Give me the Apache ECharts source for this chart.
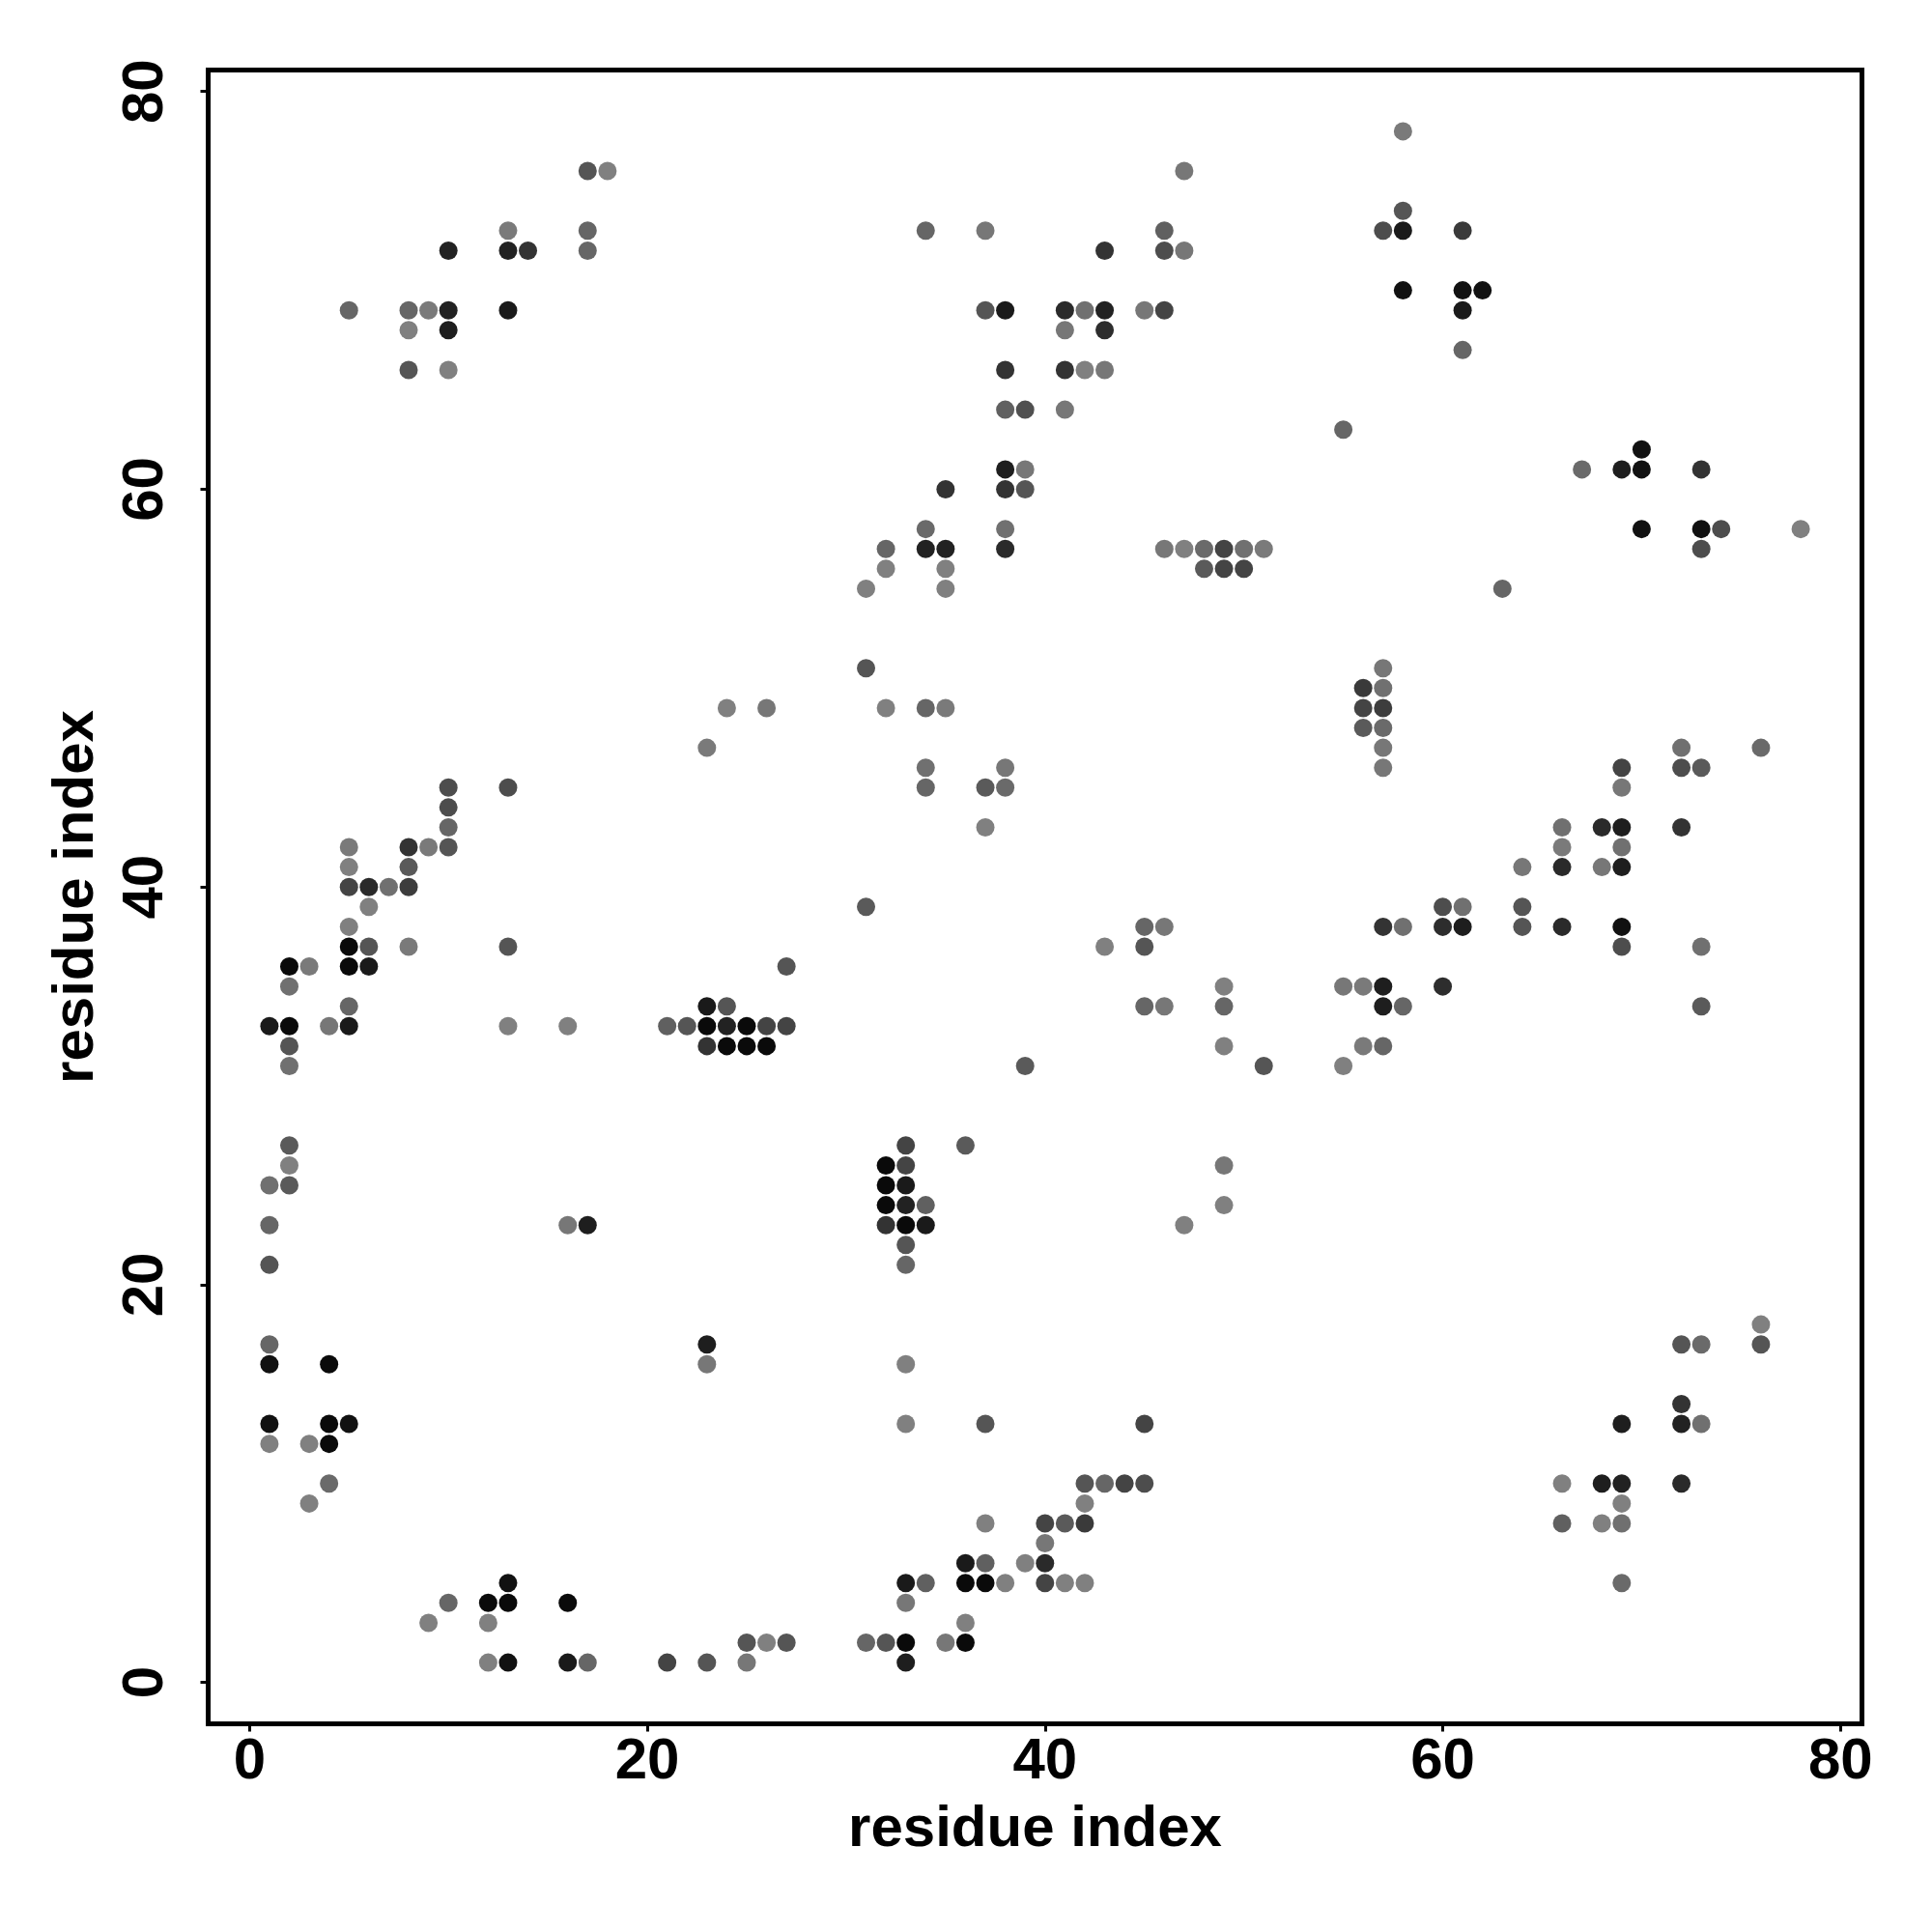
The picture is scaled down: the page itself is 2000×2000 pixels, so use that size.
<!DOCTYPE html>
<html>
<head>
<meta charset="utf-8">
<script src="https://cdn.jsdelivr.net/npm/echarts@6/dist/echarts.min.js"></script>
<style>html,body{margin:0;padding:0;background:#fff}#c{width:2000px;height:2000px}</style>
</head>
<body>
<div id="c"></div>
<script>
// [residue i, residue j, gray level (0 = black, 255 = white)]
const contactsTop = [
 [58,78,122],
 [17,76,85],[18,76,128],[47,76,119],
 [58,74,85],
 [13,73,122],[17,73,102],[34,73,102],[37,73,119],[46,73,96],[57,73,77],[58,73,26],[61,73,58],
 [10,72,34],[13,72,34],[14,72,51],[17,72,102],[43,72,51],[46,72,77],[47,72,119],
 [58,70,17],[61,70,17],[62,70,17],
 [5,69,102],[8,69,102],[9,69,122],[10,69,34],[13,69,26],[37,69,85],[38,69,26],[41,69,42],[42,69,112],[43,69,34],[45,69,119],[46,69,68],[61,69,26],
 [8,68,128],[10,68,30],[41,68,119],[43,68,45],
 [61,67,102],
 [8,66,85],[10,66,128],[38,66,51],[41,66,51],[42,66,128],[43,66,119],
 [38,64,96],[39,64,80],[41,64,119],
 [55,63,102],
 [70,62,17],
 [38,61,30],[39,61,119],[67,61,106],[69,61,30],[70,61,17],[73,61,51],
 [35,60,51],[38,60,51],[39,60,85],
 [34,58,106],[38,58,112],[70,58,17],[73,58,17],[74,58,77],[78,58,128],
 [32,57,102],[34,57,34],[35,57,34],[38,57,42],[46,57,119],[47,57,128],[48,57,106],[49,57,68],[50,57,112],[51,57,122],[73,57,77],
 [32,56,128],[35,56,128],[48,56,90],[49,56,68],[50,56,68],
 [31,55,128],[35,55,128],[63,55,102]
];
const contactsMid = [
 [31,51,85],[57,51,119],
 [56,50,58],[57,50,112],
 [24,49,128],[26,49,119],[32,49,128],[34,49,102],[35,49,122],[56,49,68],[57,49,61],
 [56,48,90],[57,48,106],
 [23,47,122],[57,47,119],[72,47,112],[76,47,106],
 [34,46,112],[38,46,119],[57,46,119],[69,46,68],[72,46,77],[73,46,90],
 [10,45,77],[13,45,77],[34,45,102],[37,45,90],[38,45,106],[69,45,119],
 [10,44,77],
 [10,43,102],[37,43,128],[66,43,112],[68,43,42],[69,43,30],[72,43,51],
 [5,42,122],[8,42,51],[9,42,122],[10,42,85],[66,42,122],[69,42,112],
 [5,41,128],[8,41,90],[64,41,119],[66,41,42],[68,41,119],[69,41,30],
 [5,40,68],[6,40,42],[7,40,112],[8,40,61],
 [6,39,128],[31,39,90],[60,39,77],[61,39,112],[64,39,85],
 [5,38,128],[45,38,102],[46,38,119],[57,38,51],[58,38,112],[60,38,45],[61,38,30],[64,38,85],[66,38,42],[69,38,17],
 [5,37,10],[6,37,85],[8,37,122],[13,37,85],[43,37,128],[45,37,85],[69,37,77],[73,37,112],
 [2,36,10],[3,36,122],[5,36,10],[6,36,26],[27,36,85],
 [2,35,112],[49,35,128],[55,35,119],[56,35,122],[57,35,30],[60,35,45],
 [5,34,102],[23,34,26],[24,34,85],[45,34,102],[46,34,119],[49,34,102],[57,34,30],[58,34,102],[73,34,90],
 [1,33,26],[2,33,10],[4,33,119],[5,33,26],[13,33,128],[16,33,128],[21,33,96],[22,33,85],[23,33,10],[24,33,34],[25,33,10],[26,33,68],[27,33,68],
 [2,32,85],[23,32,51],[24,32,10],[25,32,10],[26,32,10],[49,32,128],[56,32,122],[57,32,102],
 [2,31,112],[39,31,90],[51,31,85],[55,31,128]
];
const contactsLow = [
 [2,27,90],[33,27,68],[36,27,90],
 [2,26,128],[32,26,10],[33,26,68],[49,26,119],
 [1,25,112],[2,25,90],[32,25,10],[33,25,26],
 [32,24,10],[33,24,34],[34,24,96],[49,24,128],
 [1,23,102],[16,23,119],[17,23,30],[32,23,51],[33,23,10],[34,23,26],[47,23,128],
 [33,22,85],
 [1,21,85],[33,21,102],
 [76,18,128],
 [1,17,102],[23,17,30],[72,17,85],[73,17,106],[76,17,85],
 [1,16,17],[4,16,10],[23,16,119],[33,16,128],
 [72,14,51],
 [1,13,17],[4,13,10],[5,13,17],[33,13,128],[37,13,85],[45,13,68],[69,13,30],[72,13,34],[73,13,112],
 [1,12,128],[3,12,128],[4,12,10],
 [4,10,106],[42,10,85],[43,10,102],[44,10,68],[45,10,77],[66,10,128],[68,10,30],[69,10,34],[72,10,42],
 [3,9,128],[42,9,128],[69,9,128],
 [37,8,128],[40,8,68],[41,8,90],[42,8,58],[66,8,96],[68,8,128],[69,8,112],
 [40,7,119],
 [36,6,26],[37,6,96],[39,6,128],[40,6,42],
 [13,5,17],[33,5,26],[34,5,96],[36,5,10],[37,5,10],[38,5,128],[40,5,68],[41,5,128],[42,5,128],[69,5,106],
 [10,4,102],[12,4,10],[13,4,10],[16,4,10],[33,4,119],
 [9,3,128],[12,3,128],[36,3,128],
 [25,2,85],[26,2,128],[27,2,85],[31,2,102],[32,2,85],[33,2,10],[35,2,119],[36,2,10],
 [12,1,128],[13,1,17],[16,1,26],[17,1,102],[21,1,68],[23,1,85],[25,1,119],[33,1,30]
];
const tickValues = [0, 20, 40, 60, 80];
const xTitle = 'residue index';
const yTitle = 'residue index';

const allContacts = contactsTop.concat(contactsMid, contactsLow);
const FONT = '"Liberation Sans", Arial, Helvetica, sans-serif';

const chart = echarts.init(document.getElementById('c'), null, {renderer: 'canvas'});
const axisCommon = {
  type: 'value',
  min: -2.08,
  max: 81.08,
  splitLine: {show: false},
  axisLine: {show: false, onZero: false},
  axisTick: {show: true, inside: false, length: 8, customValues: tickValues, lineStyle: {color: '#000', width: 3}},
  axisLabel: {customValues: tickValues, color: '#000', fontSize: 60, fontWeight: 'bold', fontFamily: FONT},
  nameLocation: 'middle',
  nameTextStyle: {color: '#000', fontSize: 60, fontWeight: 'bold', fontFamily: FONT}
};
chart.setOption({
  backgroundColor: '#fff',
  animation: false,
  grid: {left: 215.5, right: 72.5, top: 72.5, bottom: 215.5, show: true, borderColor: '#000', borderWidth: 5, backgroundColor: 'transparent'},
  xAxis: Object.assign({}, axisCommon, {
    name: xTitle, nameGap: 80,
    axisLabel: Object.assign({}, axisCommon.axisLabel, {margin: 10})
  }),
  yAxis: Object.assign({}, axisCommon, {
    name: yTitle, nameGap: 106,
    axisLabel: Object.assign({}, axisCommon.axisLabel, {rotate: 90, margin: 34})
  }),
  series: [{
    type: 'scatter',
    symbol: 'circle',
    symbolSize: 19,
    data: allContacts,
    itemStyle: {
      opacity: 1,
      color: function (p) { const g = p.value[2]; return 'rgb(' + g + ',' + g + ',' + g + ')'; }
    }
  }]
});
</script>
</body>
</html>
